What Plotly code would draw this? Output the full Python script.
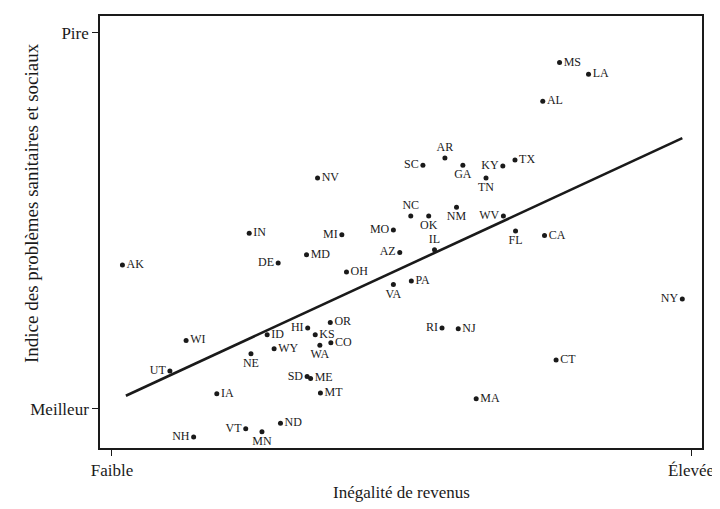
import plotly.graph_objects as go

states = ["AK","AL","AR","AZ","CA","CO","CT","DE","FL","GA","HI","IA","ID","IL","IN",
          "KS","KY","LA","MA","MD","ME","MI","MN","MO","MS","MT","NC","ND","NE","NH",
          "NJ","NM","NV","NY","OH","OK","OR","PA","RI","SC","SD","TN","TX","UT","VA",
          "VT","WA","WI","WV","WY"]
inequality = [1.8,74.4,57.5,49.7,74.7,37.8,76.7,28.7,69.7,60.6,33.8,18.1,26.8,55.7,23.7,
              35.1,67.5,82.3,62.9,33.6,34.3,39.7,25.9,48.6,77.3,36.0,51.6,29.1,24.0,14.1,
              59.8,59.5,35.5,98.5,40.5,54.7,37.7,51.7,57.0,53.7,33.7,64.6,69.6,10.0,48.6,
              23.1,35.9,12.8,67.6,28.0]
index = [38.3,81.8,66.7,41.6,46.1,17.6,13.0,38.8,47.3,64.8,21.5,4.0,19.7,42.3,46.7,
         19.7,64.6,89.0,2.7,41.0,8.1,46.3,-6.1,47.6,92.1,4.2,51.3,-3.8,14.7,-7.5,
         21.3,53.6,61.4,29.2,36.4,51.3,23.0,34.0,21.5,64.8,8.6,61.4,66.2,10.1,33.1,
         -5.3,16.9,18.2,51.3,16.0]
label_pos = ["middle right","middle right","top center","middle left","middle right",
             "middle right","middle right","middle left","bottom center","bottom center",
             "middle left","middle right","middle right","top center","middle right",
             "middle right","middle left","middle right","middle right","middle right",
             "middle right","middle left","bottom center","middle left","middle right",
             "middle right","top center","middle right","bottom center","middle left",
             "middle right","bottom center","middle right","middle left","middle right",
             "bottom center","middle right","middle right","middle left","middle left",
             "middle left","bottom center","middle right","middle left","bottom center",
             "middle left","bottom center","middle right","middle left","middle right"]
trend_x = [2.4, 98.5]
trend_y = [3.5, 72.0]

x_ticks = [0, 100]
x_tick_text = ["Faible", "Élevée"]
y_ticks = [0, 100]
y_tick_text = ["Meilleur", "Pire"]
x_title = "Inégalité de revenus"
y_title = "Indice des problèmes sanitaires et sociaux"

serif = "Liberation Serif, DejaVu Serif, serif"
ink = "#1a1a1a"

fig = go.Figure()
fig.add_trace(go.Scatter(x=trend_x, y=trend_y, mode="lines",
                         line=dict(color=ink, width=2.6),
                         showlegend=False, hoverinfo="skip"))
fig.add_trace(go.Scatter(x=inequality, y=index, mode="markers+text",
                         text=states, textposition=label_pos,
                         textfont=dict(family=serif, size=12, color=ink),
                         marker=dict(color=ink, size=5),
                         showlegend=False))

# the page body adds an 8px offset; compensate so the plot lands where the reference has it
OFF = 8
W, H = 720 - OFF, 509 - OFF
L, R, T, B = 100 - OFF, 18, 16 - OFF, 61
fig.update_layout(
    width=W, height=H,
    margin=dict(l=L, r=R, t=T, b=B, autoexpand=False),
    paper_bgcolor="white", plot_bgcolor="white",
    font=dict(family=serif, color=ink),
)
fig.update_xaxes(range=[-2.07, 101.9], tickvals=x_ticks, ticktext=x_tick_text,
                 ticks="outside", ticklen=6, tickcolor=ink, automargin=False,
                 tickfont=dict(family=serif, size=17),
                 showgrid=False, zeroline=False,
                 showline=True, linecolor=ink, linewidth=1.6, mirror=True)
fig.update_yaxes(range=[-10.4, 104.5], tickvals=y_ticks, ticktext=y_tick_text,
                 ticks="outside", ticklen=6, tickcolor=ink, automargin=False,
                 tickfont=dict(family=serif, size=17),
                 showgrid=False, zeroline=False,
                 showline=True, linecolor=ink, linewidth=1.6, mirror=True)

# axis titles placed as annotations at screen-pixel positions (paper coordinates)
pw, ph = W - L - R, H - T - B
def px_x(px):
    return (px - OFF - L) / pw
def px_y(py):
    return (H - B - (py - OFF)) / ph

fig.add_annotation(text=x_title, xref="paper", yref="paper",
                   x=px_x(401), y=px_y(492), showarrow=False,
                   font=dict(family=serif, size=17, color=ink),
                   xanchor="center", yanchor="middle")
fig.add_annotation(text=y_title, xref="paper", yref="paper",
                   x=px_x(31), y=px_y(203), showarrow=False, textangle=-90,
                   font=dict(family=serif, size=19, color=ink),
                   xanchor="center", yanchor="middle")

fig.write_html("out.html")
